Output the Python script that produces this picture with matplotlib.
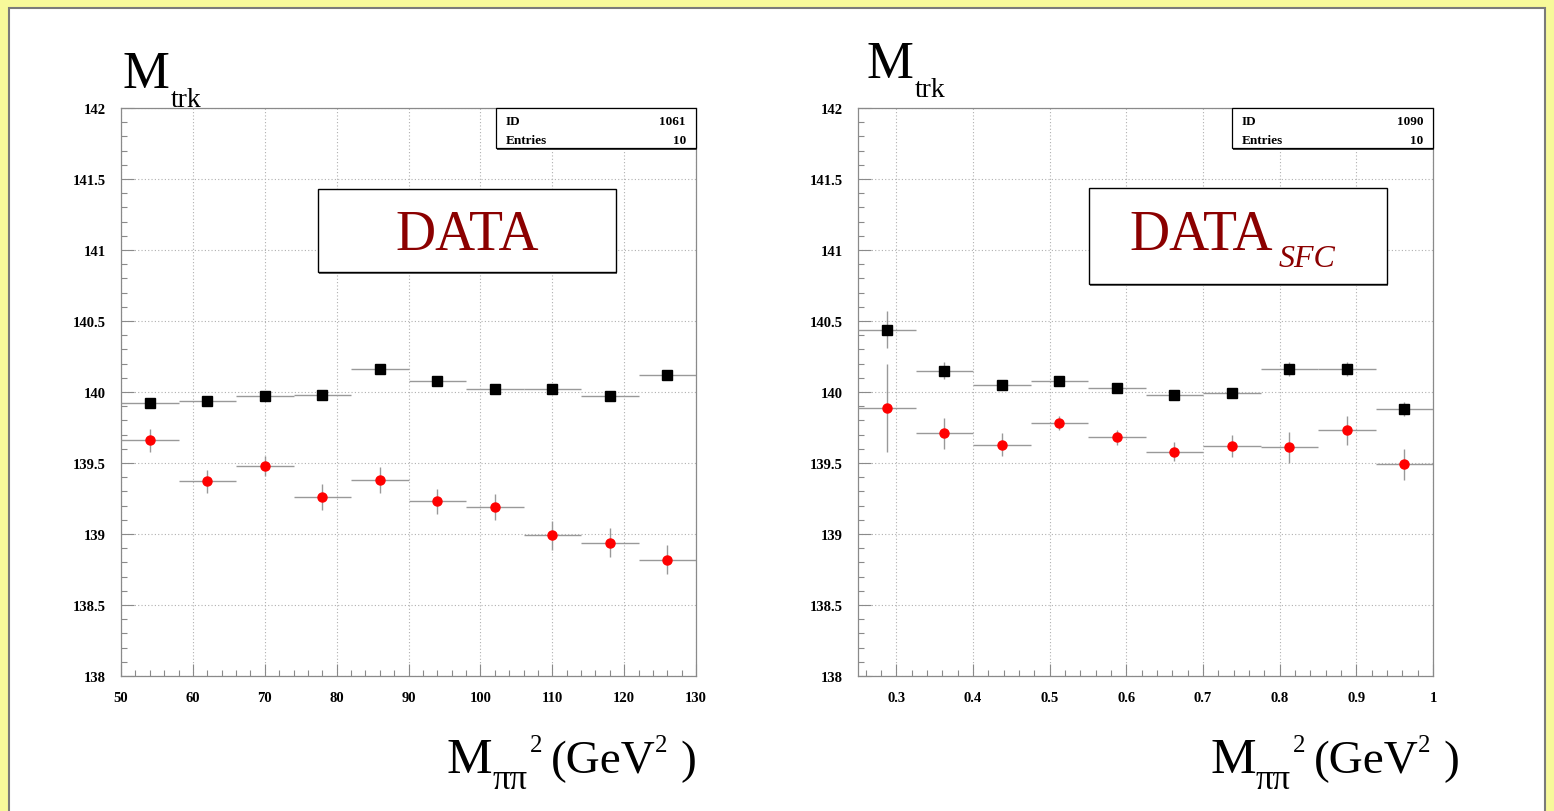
import matplotlib
matplotlib.use("Agg")
import matplotlib.pyplot as plt
from matplotlib.patches import Rectangle
from matplotlib.ticker import MultipleLocator, FuncFormatter

# ---------------- data ----------------
# Left panel (M_pipi^2 in GeV^2, bins of width 8)
left_x = [54, 62, 70, 78, 86, 94, 102, 110, 118, 126]
left_xerr = 4.0
left_black = [139.92, 139.94, 139.97, 139.98, 140.16, 140.08, 140.02, 140.02, 139.97, 140.12]
left_black_err = [0.02, 0.02, 0.02, 0.02, 0.02, 0.02, 0.02, 0.02, 0.02, 0.02]
left_red = [139.66, 139.37, 139.48, 139.26, 139.38, 139.23, 139.19, 138.99, 138.94, 138.82]
left_red_err = [0.08, 0.08, 0.07, 0.09, 0.09, 0.09, 0.09, 0.10, 0.10, 0.10]

# Right panel (bins of width 0.075)
right_x = [0.2875, 0.3625, 0.4375, 0.5125, 0.5875, 0.6625, 0.7375, 0.8125, 0.8875, 0.9625]
right_xerr = 0.0375
right_black = [140.44, 140.15, 140.05, 140.08, 140.03, 139.98, 139.99, 140.16, 140.16, 139.88]
right_black_err = [0.13, 0.06, 0.03, 0.03, 0.03, 0.03, 0.03, 0.05, 0.05, 0.05]
right_red = [139.89, 139.71, 139.63, 139.78, 139.68, 139.58, 139.62, 139.61, 139.73, 139.49]
right_red_err = [0.31, 0.11, 0.08, 0.05, 0.05, 0.065, 0.08, 0.11, 0.10, 0.11]

left_id, right_id = "1061", "1090"
entries = "10"

W, H = 1554, 812
SERIF = "Liberation Serif"
DARKRED = "#8B0000"

fig = plt.figure(figsize=(W / 100, H / 100), dpi=100)
fig.patch.set_facecolor("#F7F99A")


def fx(x):
    return x / W


def fy(y):
    return 1 - y / H


# white panel (behind the axes)
fig.patches.append(Rectangle((fx(9), fy(830)), fx(1545) - fx(9), fy(9) - fy(830),
                             transform=fig.transFigure, facecolor="white",
                             edgecolor="#7a7a7a", lw=1.5, zorder=-10))


def make_axes(x0, x1, y0, y1):
    ax = fig.add_axes([fx(x0), fy(y1), fx(x1) - fx(x0), fy(y0) - fy(y1)])
    ax.set_facecolor("white")
    for s in ax.spines.values():
        s.set_color("#8a8a8a")
        s.set_linewidth(0.9)
    ax.set_ylim(138, 142)
    ax.yaxis.set_major_locator(MultipleLocator(0.5))
    ax.yaxis.set_minor_locator(MultipleLocator(0.1))
    ax.yaxis.set_major_formatter(FuncFormatter(lambda v, p: "%g" % v))
    ax.tick_params(which="both", direction="in", color="#8a8a8a", top=False, right=False)
    ax.tick_params(which="major", length=9, width=0.8, pad=11)
    ax.tick_params(which="minor", length=4.5, width=0.8)
    ax.grid(True, which="major", color="#b0b0b0", linestyle=(0, (1, 2)), linewidth=0.8)
    ax.set_axisbelow(True)
    return ax


def draw_series(ax, x, xerr, yb, yb_err, yr, yr_err):
    ax.errorbar(x, yb, xerr=xerr, yerr=yb_err, fmt="s", color="black", ms=6.5,
                ecolor="#999999", elinewidth=1.0, capsize=0, zorder=3)
    ax.errorbar(x, yr, xerr=xerr, yerr=yr_err, fmt="o", color="#FF0000", ms=6.5,
                ecolor="#999999", elinewidth=1.0, capsize=0, zorder=3)


# left axes
axL = make_axes(121, 696, 109, 677)
axL.set_xlim(50, 130)
axL.xaxis.set_major_locator(MultipleLocator(10))
axL.xaxis.set_minor_locator(MultipleLocator(2))
axL.xaxis.set_major_formatter(FuncFormatter(lambda v, p: "%g" % v))
draw_series(axL, left_x, left_xerr, left_black, left_black_err, left_red, left_red_err)

# right axes
axR = make_axes(858, 1433, 109, 677)
axR.set_xlim(0.25, 1.0)
axR.xaxis.set_major_locator(MultipleLocator(0.1))
axR.xaxis.set_minor_locator(MultipleLocator(0.02))
axR.xaxis.set_major_formatter(FuncFormatter(lambda v, p: "%g" % round(v, 2)))
draw_series(axR, right_x, right_xerr, right_black, right_black_err, right_red, right_red_err)

for ax in (axL, axR):
    for lab in ax.get_xticklabels() + ax.get_yticklabels():
        lab.set_fontfamily(SERIF)
        lab.set_fontweight("bold")
        lab.set_fontsize(10.5)


def ftext(x, y, s, size, **kw):
    kw.setdefault("va", "baseline")
    kw.setdefault("ha", "left")
    kw.setdefault("family", SERIF)
    kw.setdefault("color", "black")
    fig.text(fx(x), fy(y), s, fontsize=size, **kw)


def stats_box(x0, x1, y0, y1, idv):
    fig.patches.append(Rectangle((fx(x0 + 1), fy(y1 + 1.5)), fx(x1) - fx(x0), fy(y0) - fy(y1),
                                 transform=fig.transFigure, facecolor="#444444",
                                 edgecolor="none", zorder=4))
    fig.patches.append(Rectangle((fx(x0), fy(y1)), fx(x1) - fx(x0), fy(y0) - fy(y1),
                                 transform=fig.transFigure, facecolor="white",
                                 edgecolor="black", lw=0.9, zorder=5))
    ftext(x0 + 10, y0 + 16, "ID", 9.5, weight="bold", zorder=6)
    ftext(x1 - 10, y0 + 16, idv, 9.5, weight="bold", ha="right", zorder=6)
    ftext(x0 + 10, y0 + 35, "Entries", 9.5, weight="bold", zorder=6)
    ftext(x1 - 10, y0 + 35, entries, 9.5, weight="bold", ha="right", zorder=6)


stats_box(496, 696, 109, 149, left_id)
stats_box(1232, 1433, 109, 149, right_id)


def label_box(x0, x1, y0, y1):
    fig.patches.append(Rectangle((fx(x0 + 1), fy(y1 + 1.5)), fx(x1) - fx(x0), fy(y0) - fy(y1),
                                 transform=fig.transFigure, facecolor="#666666",
                                 edgecolor="none", zorder=4))
    fig.patches.append(Rectangle((fx(x0), fy(y1)), fx(x1) - fx(x0), fy(y0) - fy(y1),
                                 transform=fig.transFigure, facecolor="white",
                                 edgecolor="black", lw=1.0, zorder=5))


label_box(318, 616, 190, 273)
ftext(467, 250, "DATA", 40, ha="center", color=DARKRED, zorder=6)
label_box(1089, 1387, 189, 285)
ftext(1129, 250, "DATA", 40, color=DARKRED, zorder=6)
ftext(1279, 267, "SFC", 23, style="italic", color=DARKRED, zorder=6)

# y titles: M_trk
ftext(122, 88, "M", 38)
ftext(171, 107, "trk", 20)
ftext(866, 78, "M", 38)
ftext(915, 97, "trk", 20)


# x titles
def xlabel(x0):
    ftext(x0, 773, "M", 37)
    ftext(x0 + 46, 789, "\u03c0\u03c0", 25)
    ftext(x0 + 83, 752, "2", 18)
    ftext(x0 + 104, 773, "(GeV", 34)
    ftext(x0 + 208, 752, "2", 18)
    ftext(x0 + 233, 773, ")", 34)


xlabel(447)
xlabel(1210)

fig.savefig("out.png", dpi=100, facecolor=fig.get_facecolor())
